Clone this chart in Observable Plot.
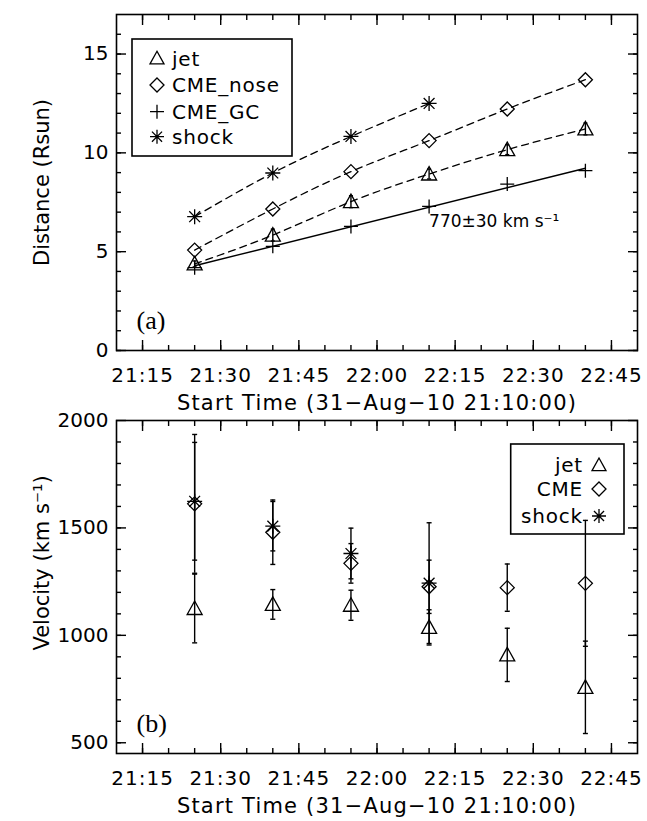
<!DOCTYPE html>
<html><head><meta charset="utf-8">
<script src="https://cdn.jsdelivr.net/npm/d3@7"></script>
<script src="https://cdn.jsdelivr.net/npm/@observablehq/plot@0.6"></script>
<style>
html,body{margin:0;padding:0;background:#fff;}
#chart{position:relative;width:647px;height:821px;overflow:hidden;background:#fff;}
#chart svg{position:absolute;left:0;}
</style></head><body><div id="chart"></div>
<script>
// ---------- data ----------
const times = ["21:25","21:40","21:55","22:10","22:25","22:40"];
const xRange = ["21:10","22:50"];
const xTickLabels = ["21:15","21:30","21:45","22:00","22:15","22:30","22:45"];
const xTitle = "Start Time (31\u2212Aug\u221210 21:10:00)";

// panel (a): distance (Rsun)
const distTicks = [0,5,10,15];
const distRange = [0,17];
const jetDist = [4.38, 5.84, 7.53, 8.93, 10.16, 11.21];
const jetDistErr = [0.15, 0.3, 0.3, 0.25, 0.25, 0.3];
const noseDist = [5.08, 7.16, 9.05, 10.62, 12.22, 13.70];
const gcDist = [4.19, 5.27, 6.28, 7.29, 8.42, 9.10];
const shockDist = [6.77, 8.98, 10.83, 12.50];
const gcFitTimes = ["21:25","22:40"];
const gcFitDist = [4.29, 9.22];
const gcFitText = "770\u00b130 km s\u207b\u00b9";
const gcFitTextAt = "22:10";
const distLegend = ["jet","CME_nose","CME_GC","shock"];

// panel (b): velocity (km/s)
const velTicks = [500,1000,1500,2000];
const velRange = [450,2000];
const jetVel = [1125, 1144, 1140, 1037, 909, 758];
const jetVelErr = [160, 69, 70, 82, 124, 215];
const cmeVel = [1612, 1480, 1335, 1226, 1222, 1242];
const cmeVelErr = [323, 150, 92, 124, 110, 293];
const shockVel = [1624, 1508, 1381, 1243];
const shockVelErr = [274, 115, 118, 281];
const velLegend = ["jet","CME","shock"];

// ---------- helpers ----------
const parseT = s => new Date(Date.UTC(2010, 7, 31, +s.slice(0,2), +s.slice(3,5)));
const fmt = d3.utcFormat("%H:%M");
const yFmt = d3.format("d");
const xDomain = xRange.map(parseT);
const xMajor = xTickLabels.map(parseT);
const xMinor = d3.utcMinute.every(5).range(xDomain[0], xDomain[1]).slice(1);
const rows = (vals, errs, ts = times) => vals.map((v, i) => ({t: parseT(ts[i]), v, e: errs ? errs[i] : 0}));

const symTriangle = {draw(c, s){const r = Math.sqrt(s/Math.PI); c.moveTo(0,-r); c.lineTo(r, r*0.8); c.lineTo(-r, r*0.8); c.closePath();}};
const symDiamond = {draw(c, s){const r = Math.sqrt(s/Math.PI); c.moveTo(0,-r); c.lineTo(r,0); c.lineTo(0,r); c.lineTo(-r,0); c.closePath();}};
const symPlus = {draw(c, s){const r = Math.sqrt(s/Math.PI); c.moveTo(-r,0); c.lineTo(r,0); c.moveTo(0,-r); c.lineTo(0,r);}};
const symAst = {draw(c, s){const r = Math.sqrt(s/Math.PI), d = r*0.72; c.moveTo(-r,0); c.lineTo(r,0); c.moveTo(0,-r); c.lineTo(0,r); c.moveTo(-d,-d); c.lineTo(d,d); c.moveTo(-d,d); c.lineTo(d,-d);}};
const symCap = {draw(c, s){const r = Math.sqrt(s/Math.PI); c.moveTo(-r,0); c.lineTo(r,0);}};

const FONT = "DejaVu Sans, sans-serif";
const style = {fontFamily: FONT, fontSize: "20px", color: "black", background: "transparent", overflow: "visible"};
const none = () => "";

function frameAxes(yMajor, yMinor) {
  return [
    Plot.axisY(yMajor, {anchor:"left", tickSize:-10, tickPadding:18, tickFormat:yFmt, label:null, strokeWidth:1.4}),
    Plot.axisY(yMinor, {anchor:"left", tickSize:-5, tickFormat:none, label:null, strokeWidth:1.4}),
    Plot.axisY(yMajor, {anchor:"right", tickSize:-10, tickFormat:none, label:null, strokeWidth:1.4}),
    Plot.axisY(yMinor, {anchor:"right", tickSize:-5, tickFormat:none, label:null, strokeWidth:1.4}),
    Plot.axisX(xMajor, {anchor:"bottom", tickSize:-10, tickPadding:27, tickFormat:fmt, label:null, strokeWidth:1.4}),
    Plot.axisX(xMinor, {anchor:"bottom", tickSize:-5, tickFormat:none, label:null, strokeWidth:1.4}),
    Plot.axisX(xMajor, {anchor:"top", tickSize:-10, tickFormat:none, label:null, strokeWidth:1.4}),
    Plot.axisX(xMinor, {anchor:"top", tickSize:-5, tickFormat:none, label:null, strokeWidth:1.4}),
    Plot.frame({stroke:"black", strokeWidth:1.6})
  ];
}
const dots = (data, symbol, r = 7) => Plot.dot(data, {x:"t", y:"v", symbol, r, fill:"none", stroke:"black", strokeWidth:1.3});
const errBars = (data, capR = 2.5) => [
  Plot.ruleX(data, {x:"t", y1: d => d.v - d.e, y2: d => d.v + d.e, stroke:"black", strokeWidth:1.4}),
  Plot.dot(data, {x:"t", y: d => d.v - d.e, symbol: symCap, r: capR, stroke:"black", strokeWidth:1.4}),
  Plot.dot(data, {x:"t", y: d => d.v + d.e, symbol: symCap, r: capR, stroke:"black", strokeWidth:1.4})
];
const panelText = (label) => Plot.text([label], {frameAnchor:"bottom-left", dx: 20, dy: -30, textAnchor:"start", lineAnchor:"middle", fontFamily:"Liberation Serif, DejaVu Serif, serif", fontSize: 26, fill:"black"});
const xTitleMark = () => Plot.text([xTitle], {frameAnchor:"bottom", dy: 53, textAnchor:"middle", lineAnchor:"middle", fontSize: 21, fill:"black"});
const yTitleMark = (label, dy) => Plot.text([label], {frameAnchor:"left", dx: -74, dy, rotate: -90, textAnchor:"middle", lineAnchor:"middle", fontSize: 21, fill:"black"});

function addLegend(svg, box, items, align) {
  const g = d3.select(svg).append("g").attr("font-family", FONT).attr("font-size", 20).attr("letter-spacing", "0.8px");
  g.append("rect").attr("x", box.x).attr("y", box.y).attr("width", box.w).attr("height", box.h)
    .attr("fill", "none").attr("stroke", "black").attr("stroke-width", 1.6);
  items.forEach((it, i) => {
    const y = box.rows[i];
    g.append("path").attr("d", d3.symbol(it.sym, Math.PI * 49)()).attr("transform", `translate(${box.symX},${y})`)
      .attr("fill", "none").attr("stroke", "black").attr("stroke-width", 1.3);
    g.append("text").attr("x", box.textX).attr("y", y).attr("dy", "0.36em")
      .attr("text-anchor", align).attr("fill", "black").text(it.label);
  });
}
function spaceText(svg) {
  d3.select(svg).selectAll("text").each(function() {
    const t = this.textContent;
    if (t === xTitle) this.setAttribute("letter-spacing", "1.2px");
    else if (xTickLabels.includes(t)) this.setAttribute("letter-spacing", "1px");
  });
}

const chart = document.getElementById("chart");

// ---------- panel (a) ----------
const jetD = rows(jetDist, jetDistErr), noseD = rows(noseDist), gcD = rows(gcDist), shockD = rows(shockDist);
const gcFit = rows(gcFitDist, null, gcFitTimes);
const topPlot = Plot.plot({
  width: 647, height: 412,
  marginTop: 14, marginBottom: 62, marginLeft: 116, marginRight: 10,
  style,
  x: {type: "utc", domain: xDomain},
  y: {domain: distRange},
  marks: [
    ...frameAxes(distTicks, d3.range(distRange[0], distRange[1])),
    Plot.line(jetD, {x:"t", y:"v", curve:"natural", strokeDasharray:"7,5", strokeWidth:1.3}),
    Plot.line(noseD, {x:"t", y:"v", curve:"natural", strokeDasharray:"7,5", strokeWidth:1.3}),
    Plot.line(shockD, {x:"t", y:"v", curve:"natural", strokeDasharray:"7,5", strokeWidth:1.3}),
    Plot.line(gcFit, {x:"t", y:"v", strokeWidth:1.4}),
    ...errBars(jetD, 2),
    dots(jetD, symTriangle, 7.5),
    dots(noseD, symDiamond, 7),
    dots(gcD, symPlus, 7),
    dots(shockD, symAst, 7.5),
    Plot.text([gcFitText], {x: () => parseT(gcFitTextAt), y: () => gcDist[times.indexOf(gcFitTextAt)], dy: 15, textAnchor:"start", fontSize: 17, fill:"black"}),
    panelText("(a)"),
    xTitleMark(),
    yTitleMark("Distance (Rsun)", 0)
  ]
});
topPlot.style.top = "0px";
chart.appendChild(topPlot);
spaceText(topPlot);
addLegend(topPlot, {x:132, y:39, w:160, h:117, symX:157, textX:172, rows:[58.3, 85, 111.7, 136.7]},
  [{sym:symTriangle, label:distLegend[0]}, {sym:symDiamond, label:distLegend[1]}, {sym:symPlus, label:distLegend[2]}, {sym:symAst, label:distLegend[3]}], "start");

// ---------- panel (b) ----------
const jetV = rows(jetVel, jetVelErr), cmeV = rows(cmeVel, cmeVelErr), shockV = rows(shockVel, shockVelErr);
const bottomPlot = Plot.plot({
  width: 647, height: 409,
  marginTop: 8, marginBottom: 68, marginLeft: 116, marginRight: 10,
  style,
  x: {type: "utc", domain: xDomain},
  y: {domain: velRange},
  marks: [
    ...frameAxes(velTicks, d3.range(500, 2000, 100)),
    ...errBars(jetV), ...errBars(cmeV), ...errBars(shockV),
    dots(jetV, symTriangle, 7.5),
    dots(cmeV, symDiamond, 7),
    dots(shockV, symAst, 7.5),
    panelText("(b)"),
    xTitleMark(),
    yTitleMark("Velocity (km s\u207b\u00b9)", -24)
  ]
});
bottomPlot.style.top = "412px";
chart.appendChild(bottomPlot);
spaceText(bottomPlot);
addLegend(bottomPlot, {x:510.7, y:32, w:113.3, h:90, symX:599, textX:583, rows:[53, 77, 104]},
  [{sym:symTriangle, label:velLegend[0]}, {sym:symDiamond, label:velLegend[1]}, {sym:symAst, label:velLegend[2]}], "end");
</script>
</body></html>
